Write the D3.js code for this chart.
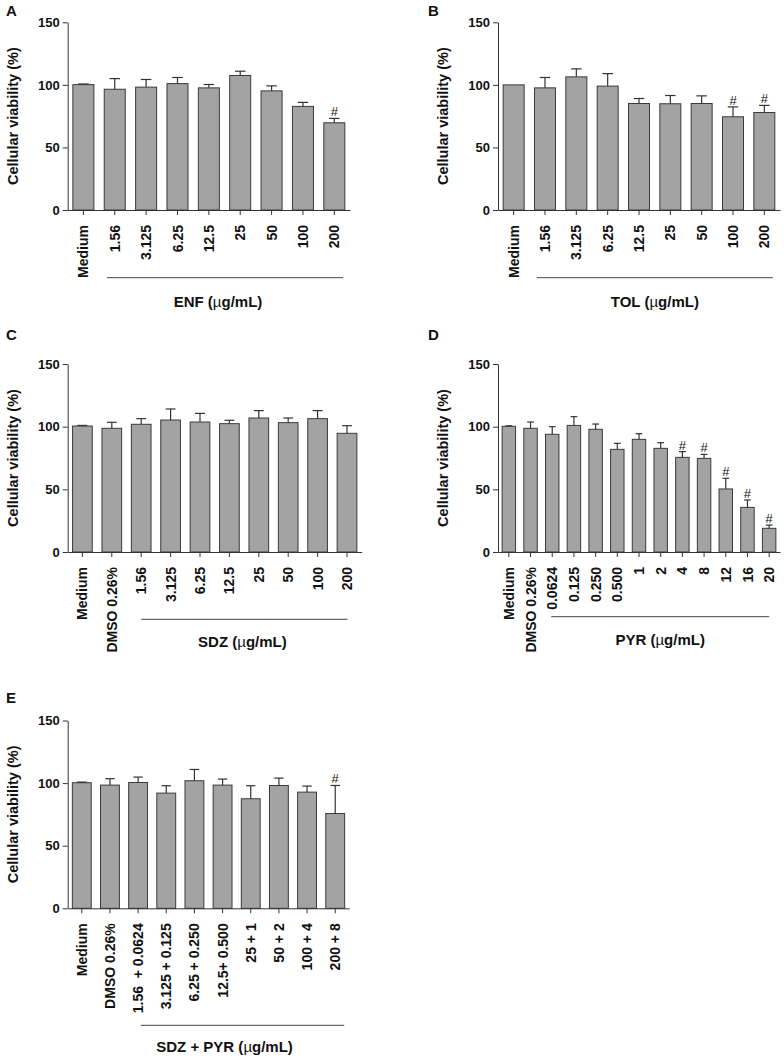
<!DOCTYPE html>
<html><head><meta charset="utf-8">
<script src="https://cdn.jsdelivr.net/npm/d3@7"></script>
<style>
body{margin:0;background:#fff}
svg{display:block}
text{font-family:"Liberation Sans",Arial,Helvetica,sans-serif;fill:#111}
</style>
</head><body>
<svg id="chart" width="784" height="1058"></svg>
<script>
// ---------- DATA ----------
const yTicks = [0, 50, 100, 150];
const yLabel = "Cellular viability (%)";

const catsA = ["Medium","1.56","3.125","6.25","12.5","25","50","100","200"];
const meanA = [100.2,96.5,98.2,101,97.6,107.5,95.2,82.8,69.7];
const errA  = [0.5,8.5,6.1,4.9,2.7,3.4,4.0,3.2,3.5];
const sigA  = ["200"];
const titleA = "ENF";

const catsB = ["Medium","1.56","3.125","6.25","12.5","25","50","100","200"];
const meanB = [100,97.6,106.4,99,85.1,84.9,85.1,74.5,77.9];
const errB  = [0,8.3,6.4,10,4,6.6,6.1,7.9,5.7];
const sigB  = ["100","200"];
const titleB = "TOL";

const catsC = ["Medium","DMSO 0.26%","1.56","3.125","6.25","12.5","25","50","100","200"];
const meanC = [100.5,98.7,101.9,105.3,103.7,102.4,106.9,103.2,106.4,94.7];
const errC  = [0.5,4.8,4.5,8.8,6.9,2.7,5.9,3.7,6.4,6.1];
const sigC  = [];
const titleC = "SDZ";

const catsD = ["Medium","DMSO 0.26%","0.0624","0.125","0.250","0.500","1","2","4","8","12","16","20"];
const meanD = [100.3,98.7,93.9,101,97.9,81.9,89.9,82.7,75.5,74.7,50.3,35.6,18.9];
const errD  = [0.4,5,6.1,7,4.2,4.8,4.5,4.5,4.6,3.2,8.5,5.9,2.6];
const sigD  = ["4","8","12","16","20"];
const titleD = "PYR";

const catsE = ["Medium","DMSO 0.26%","1.56  + 0.0624","3.125 + 0.125","6.25 + 0.250","12.5+ 0.500","25 + 1","50 + 2","100 + 4","200 + 8"];
const meanE = [100.3,98.4,100.5,92,101.9,98.4,87.5,98.1,92.8,75.7];
const errE  = [0.5,5.1,4.3,5.9,9,4.8,10.4,5.9,4.8,22.4];
const sigE  = ["200 + 8"];
const titleE = "SDZ + PYR";

// ---------- LAYOUT ----------
const panels = [
  {id:"A", cats:catsA, mean:meanA, err:errA, sig:sigA, title:titleA,
   x0:67.7, x1:350, yTop:22.3, yZero:210, pad:0.33, lbl:[6,16],
   firstTreated:1, ulStart:-0.25, ulEnd:0.28, ulOff:67.7, tOff:97, tDx:-7},
  {id:"B", cats:catsB, mean:meanB, err:errB, sig:sigB, title:titleB,
   x0:498, x1:780, yTop:22.3, yZero:210, pad:0.33, lbl:[428,16],
   firstTreated:1, ulStart:-0.26, ulEnd:0.27, ulOff:67.7, tOff:97, tDx:0},
  {id:"C", cats:catsC, mean:meanC, err:errC, sig:sigC, title:titleC,
   x0:67.7, x1:361.7, yTop:364, yZero:552, pad:0.33, lbl:[6,340],
   firstTreated:2, ulStart:0, ulEnd:0.02, ulOff:67.3, tOff:94.5, tDx:-2},
  {id:"D", cats:catsD, mean:meanD, err:errD, sig:sigD, title:titleD,
   x0:498, x1:780, yTop:364, yZero:552, pad:0.38, lbl:[428,340],
   firstTreated:2, ulStart:-0.05, ulEnd:0, ulOff:64.7, tOff:93, tDx:0},
  {id:"E", cats:catsE, mean:meanE, err:errE, sig:sigE, title:titleE,
   x0:67.7, x1:349.3, yTop:720.5, yZero:908.3, pad:0.33, lbl:[6,703],
   firstTreated:2, ulStart:0.1, ulEnd:0.32, ulOff:117, tOff:143.5, tDx:-18}
];

const svg = d3.select("#chart");
const AX = "#333";

panels.forEach(p => {
  const g = svg.append("g");
  const x = d3.scaleBand().domain(p.cats).range([p.x0, p.x1])
              .paddingInner(p.pad).paddingOuter(p.pad/2);
  const y = d3.scaleLinear().domain([0,150]).range([p.yZero, p.yTop]);
  const bw = x.bandwidth();
  const step = x.step();
  const data = p.cats.map((c,i)=>({c, m:p.mean[i], e:p.err[i], s:p.sig.includes(c)}));

  // panel letter
  g.append("text").attr("x",p.lbl[0]).attr("y",p.lbl[1])
    .attr("font-size",15).attr("font-weight","bold").text(p.id);

  // bars
  g.selectAll("rect.bar").data(data).join("rect").attr("class","bar")
    .attr("x",d=>x(d.c)).attr("width",bw)
    .attr("y",d=>y(d.m)).attr("height",d=>y(0)-y(d.m))
    .attr("fill","#a3a3a3").attr("stroke","#3a3a3a").attr("stroke-width",1);

  // error bars (upper)
  const eb = data.filter(d=>d.e>0.3);
  g.selectAll("line.ev").data(eb).join("line")
    .attr("x1",d=>x(d.c)+bw/2).attr("x2",d=>x(d.c)+bw/2)
    .attr("y1",d=>y(d.m)).attr("y2",d=>y(d.m+d.e))
    .attr("stroke",AX).attr("stroke-width",1.2);
  g.selectAll("line.ec").data(eb).join("line")
    .attr("x1",d=>x(d.c)+bw/4).attr("x2",d=>x(d.c)+bw*3/4)
    .attr("y1",d=>y(d.m+d.e)).attr("y2",d=>y(d.m+d.e))
    .attr("stroke",AX).attr("stroke-width",1.2);

  // significance
  g.selectAll("text.sig").data(data.filter(d=>d.s)).join("text")
    .attr("x",d=>x(d.c)+bw/2).attr("y",d=>y(d.m+d.e)-2)
    .attr("text-anchor","middle").attr("font-size",13).text("#");

  // y axis
  const ya = g.append("g").attr("transform",`translate(${p.x0},0)`)
    .call(d3.axisLeft(y).tickValues(yTicks).tickSize(5).tickPadding(3).tickSizeOuter(0));
  ya.select(".domain").attr("stroke",AX).attr("stroke-width",1);
  ya.selectAll(".tick line").attr("stroke",AX);
  ya.selectAll(".tick text").attr("font-size",13).attr("font-weight","bold")
    .attr("font-family",'"Liberation Sans",Arial,sans-serif').attr("fill","#111");

  // x axis
  const xa = g.append("g").attr("transform",`translate(0,${p.yZero})`)
    .call(d3.axisBottom(x).tickSize(5).tickSizeOuter(0));
  xa.select(".domain").attr("stroke",AX).attr("stroke-width",1);
  xa.selectAll(".tick line").attr("stroke",AX);
  xa.selectAll(".tick text")
    .attr("font-size",14).attr("font-weight","bold")
    .attr("font-family",'"Liberation Sans",Arial,sans-serif').attr("fill","#111")
    .style("white-space","pre")
    .attr("transform","rotate(-90)")
    .attr("text-anchor","end")
    .attr("x",-15).attr("y",0).attr("dy","0.36em");

  // y label
  g.append("text")
    .attr("transform",`translate(${p.x0-50},${(p.yZero+p.yTop)/2}) rotate(-90)`)
    .attr("text-anchor","middle").attr("font-size",14.5).attr("font-weight","bold")
    .text(yLabel);

  // underline + title
  const ft = p.cats[p.firstTreated], lt = p.cats[p.cats.length-1];
  const ux0 = x(ft)+bw/2 + p.ulStart*step;
  const ux1 = x(lt)+bw/2 + p.ulEnd*step;
  g.append("line").attr("x1",ux0).attr("x2",ux1)
    .attr("y1",p.yZero+p.ulOff).attr("y2",p.yZero+p.ulOff)
    .attr("stroke","#444").attr("stroke-width",1);
  const t = g.append("text").attr("x",(ux0+ux1)/2+p.tDx).attr("y",p.yZero+p.tOff)
    .attr("text-anchor","middle").attr("font-size",15).attr("font-weight","bold");
  t.append("tspan").text(p.title + " (");
  t.append("tspan").attr("font-weight","normal").text("\u00b5");
  t.append("tspan").text("g/mL)");
});
</script>
</body></html>
